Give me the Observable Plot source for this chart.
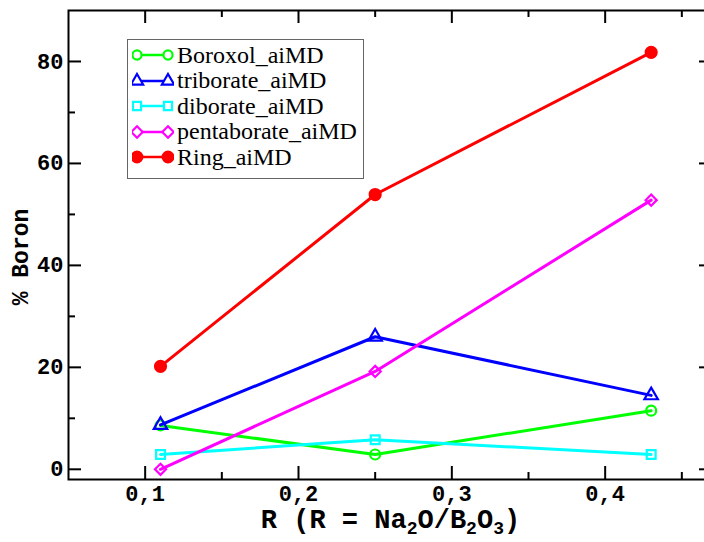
<!DOCTYPE html>
<html><head><meta charset="utf-8">
<script src="https://cdn.jsdelivr.net/npm/d3@7"></script>
<script src="https://cdn.jsdelivr.net/npm/@observablehq/plot@0.6"></script>
<style>
html,body{margin:0;padding:0;background:#fff;overflow:hidden;width:704px;height:542px;}
#wrap{position:relative;width:704px;height:542px;overflow:hidden;}
#chart svg{max-width:none !important;}
#legend{position:absolute;left:127px;top:39px;width:237px;height:140px;border:1.5px solid #666;background:#fff;box-sizing:border-box;font-family:"Liberation Serif","Times New Roman",serif;font-size:24px;color:#000;}
.row{position:absolute;left:4px;height:26px;display:flex;align-items:center;white-space:nowrap;}
.row svg{margin-right:3px;}
</style></head>
<body><div id="wrap"><div id="chart"></div><div id="legend"></div></div>
<script>
// ---- data ----
const R = [0.11, 0.25, 0.43];
const seriesNames = ["Boroxol_aiMD", "triborate_aiMD", "diborate_aiMD", "pentaborate_aiMD", "Ring_aiMD"];
const boroxol = [8.6, 2.9, 11.5];
const triborate = [8.7, 26.0, 14.5];
const diborate = [2.9, 5.8, 2.9];
const pentaborate = [0.0, 19.2, 52.8];
const ring = [20.2, 53.9, 81.8];
const xMajor = [0.1, 0.2, 0.3, 0.4];
const xMinor = [0.15, 0.25, 0.35, 0.45];
const yMajor = [0, 20, 40, 60, 80];
const yMinor = [10, 30, 50, 70];
const xTitle = "R (R = Na2O/B2O3)";
const yTitle = "% Boron";

// ---- styles ----
const colors = ["#00ff00", "#0000ff", "#00ffff", "#ff00ff", "#ff0000"];
const symbols = ["circle", "triangle", "square", "diamond2", "circle"];
const filled = [false, false, false, false, true];

const values = [boroxol, triborate, diborate, pentaborate, ring];
const rows = [];
seriesNames.forEach((s, i) => values[i].forEach((v, j) => rows.push({series: s, idx: i, R: R[j], v})));

const W = 720, H = 542, mL = 68, mR = 8, mT = 10, mB = 63;
const innerW = W - mL - mR, innerH = H - mT - mB;
const tickStyle = {stroke: "black", strokeWidth: 2};
const fmt = d => d3.format(".1f")(d).replace(".", ",");
const fontMono = "'Liberation Mono', 'Courier New', monospace";

const marks = [
  Plot.frame({stroke: "black", strokeWidth: 2}),
  Plot.tickX(xMajor, {x: d => d, insetTop: innerH - 13, ...tickStyle}),
  Plot.tickX(xMinor, {x: d => d, insetTop: innerH - 7, ...tickStyle}),
  Plot.tickX(xMajor, {x: d => d, insetBottom: innerH - 13, ...tickStyle}),
  Plot.tickX(xMinor, {x: d => d, insetBottom: innerH - 7, ...tickStyle}),
  Plot.tickY(yMajor, {y: d => d, insetRight: innerW - 13, ...tickStyle}),
  Plot.tickY(yMinor, {y: d => d, insetRight: innerW - 7, ...tickStyle}),
  Plot.tickY(yMajor, {y: d => d, insetLeft: innerW - 13, ...tickStyle}),
  Plot.tickY(yMinor, {y: d => d, insetLeft: innerW - 7, ...tickStyle}),
  Plot.axisX({ticks: xMajor, tickSize: 0, tickPadding: 6, tickFormat: fmt, label: null, fontSize: 22, fontFamily: fontMono, fontWeight: "bold"}),
  Plot.axisY({ticks: yMajor, tickSize: 0, tickPadding: 5, label: null, fontSize: 22, fontFamily: fontMono, fontWeight: "bold"}),
];
seriesNames.forEach((s, i) => {
  const d = rows.filter(r => r.series === s);
  marks.push(Plot.line(d, {x: "R", y: "v", stroke: colors[i], strokeWidth: 3}));
  marks.push(Plot.dot(d, {x: "R", y: "v", symbol: () => symbols[i], r: filled[i] ? 5.5 : 5,
    stroke: colors[i], strokeWidth: 2.2, fill: filled[i] ? colors[i] : "none"}));
});
marks.push(Plot.text([xTitle], {text: d => d, frameAnchor: "bottom", textAnchor: "middle", lineAnchor: "middle", dy: 40, fontSize: 27, fontFamily: fontMono, fontWeight: "bold"}));
marks.push(Plot.text([yTitle], {text: d => d, frameAnchor: "left", textAnchor: "middle", lineAnchor: "middle", dx: -48, dy: 12, rotate: -90, fontSize: 23, fontFamily: fontMono, fontWeight: "bold"}));

const chart = Plot.plot({
  width: W, height: H, marginLeft: mL, marginRight: mR, marginTop: mT, marginBottom: mB,
  x: {domain: [0.05, 0.47], axis: null},
  y: {domain: [-2, 90], axis: null},
  symbol: {type: "identity"},
  style: {background: "white", color: "black", fontFamily: fontMono, fontWeight: "bold", overflow: "visible", maxWidth: "none"},
  marks
});
chart.style.maxWidth = "none";
chart.setAttribute("width", W);
document.getElementById("chart").appendChild(chart);

// subscripts in x title
d3.select(chart).selectAll("text").filter(function() { return this.textContent === xTitle; })
  .each(function() {
    const t = d3.select(this);
    t.text(null);
    const parts = [["R (R = Na", 0], ["2", 1], ["O/B", 0], ["2", 1], ["O", 0], ["3", 1], [")", 0]];
    let low = false;
    parts.forEach(([p, sub]) => {
      const ts = t.append("tspan").text(p);
      if (sub) { ts.attr("font-size", 18).attr("dy", low ? null : 6); low = true; }
      else if (low) { ts.attr("dy", -6); low = false; }
    });
  });

// legend
const legend = d3.select("#legend");
const rowTops = [2, 27.5, 53, 78.5, 104];
seriesNames.forEach((s, i) => {
  const row = legend.append("div").attr("class", "row").style("top", rowTops[i] + "px");
  const svg = row.append("svg").attr("width", 42).attr("height", 26);
  svg.append("line").attr("x1", 5).attr("x2", 36).attr("y1", 13).attr("y2", 13)
    .attr("stroke", colors[i]).attr("stroke-width", 2.5);
  const typ = {circle: d3.symbolCircle, triangle: d3.symbolTriangle, square: d3.symbolSquare, diamond2: d3.symbolSquare}[symbols[i]];
  const rot = symbols[i] === "diamond2" ? 45 : 0;
  const size = filled[i] ? 90 : 65;
  [5, 36].forEach(x => {
    svg.append("path").attr("d", d3.symbol(typ, size)())
      .attr("transform", `translate(${x},13) rotate(${rot})`)
      .attr("fill", filled[i] ? colors[i] : "white")
      .attr("stroke", colors[i]).attr("stroke-width", 2.2);
  });
  row.append("span").text(s);
});
</script>
</body></html>
